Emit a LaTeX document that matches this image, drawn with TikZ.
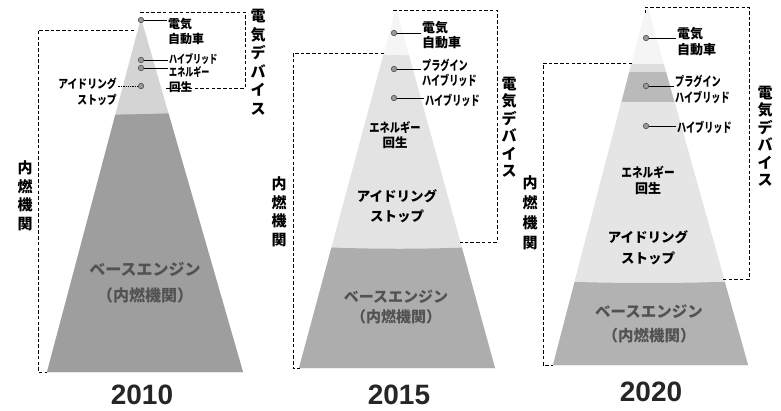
\documentclass[tikz,border=0pt]{standalone}
\usepackage{fontspec}
\usepackage{graphicx}
\setmainfont{Liberation Sans}
\newfontfamily\jp{Noto Sans CJK JP}
\newfontfamily\jpc{Noto Sans CJK JP}[FakeStretch=0.7]
\newfontfamily\jpm{Noto Sans CJK JP}[FakeStretch=0.82]
\tikzset{
  dbox/.style={draw=black, line width=0.9pt, dash pattern=on 3.5pt off 2.2pt},
  dotm/.style={circle, inner sep=0pt, minimum size=5.5pt, fill=black!40, draw=black!75, line width=0.5pt},
  lead/.style={line width=0.8pt},
  lab/.style={font=\jpc\bfseries\fontsize{12}{15}\selectfont, align=left, inner sep=1pt},
  vlab/.style={font=\jp\bfseries\fontsize{15}{18.5}\selectfont, align=center, inner sep=0pt},
  intext/.style={font=\jp\bfseries\fontsize{13}{19}\selectfont, align=center, inner sep=0pt},
  basetext/.style={font=\jp\bfseries\fontsize{15.5}{24}\selectfont, align=center, inner sep=0pt, text=black!68},
  year/.style={font=\bfseries\fontsize{28}{30}\selectfont, inner sep=0pt, text=black!85}
}
\begin{document}
\begin{tikzpicture}[x=1pt,y=-1pt]
\useasboundingbox (0,0) rectangle (781,410);
\fill[white] (0,0) rectangle (781,410);

% ---------------- Panel 2010 ----------------
\begin{scope}
  \clip (141,18) -- (243,372) -- (47,372) -- cycle;
  \fill[black!17] (30,0) rectangle (260,380);
  \fill[black!38] (30,114) .. controls (100,116) and (180,114) .. (260,109) -- (260,380) -- (30,380) -- cycle;
\end{scope}
\draw[dbox] (134,30) -- (38,30) -- (38,372) -- (47,372);
\draw[dbox] (140,12) -- (245,12) -- (245,88) -- (166,88);

\node[vlab] (p1e) at (258,62) {電\\気\\デ\\バ\\イ\\ス};
\node[vlab] (p1i) at (25,196) {内\\燃\\機\\関};

\node[dotm] (d1ev) at (141,20) {};
\node[lab, anchor=west] (l1ev) at (167,31.5) {{\jp 電気}\\{\jp 自動車}};
\draw[lead] (d1ev) -- (d1ev -| l1ev.west);

\node[dotm] (d1hy) at (141,60) {};
\node[lab, anchor=west, font=\jpc\bfseries\fontsize{11.5}{15}\selectfont] (l1hy) at (168,59.5) {ハイブリッド};
\draw[lead] (d1hy) -- (d1hy -| l1hy.west);

\node[dotm] (d1en) at (141,68) {};
\node[lab, anchor=west, font=\jpc\bfseries\fontsize{11.5}{15}\selectfont] (l1en) at (168,79) {エネルギー\\{\jp 回生}};
\draw[lead] (d1en) -- (d1en -| l1en.west);

\node[dotm] (d1id) at (141,86) {};
\node[lab, anchor=east, align=right, font=\jpm\bfseries\fontsize{12}{16}\selectfont] (l1id) at (118,91.5) {アイドリング\\ストップ};
\draw[line width=0.6pt, dash pattern=on 1pt off 0.8pt] (d1id) -- (d1id -| l1id.east);

\node[basetext, font=\jp\bfseries\fontsize{16}{26}\selectfont] (b1) at (145,283) {ベースエンジン\\（内燃機関）};
\node[year] (y1) at (142,395) {2010};

% ---------------- Panel 2015 ----------------
\begin{scope}
  \clip (396,8) -- (495,368) -- (299,368) -- cycle;
  \fill[black!4] (280,0) rectangle (510,380);
  \fill[black!11] (280,55) rectangle (510,380);
  \fill[black!32] (280,245) .. controls (360,250) and (440,250) .. (510,245) -- (510,380) -- (280,380) -- cycle;
\end{scope}
\draw[dbox] (384,53) -- (293,53) -- (293,368) -- (300,368);
\draw[dbox] (393,10) -- (497,10) -- (497,242) -- (460,242);

\node[vlab, font=\jp\bfseries\fontsize{15}{17.5}\selectfont] (p2e) at (509,127) {電\\気\\デ\\バ\\イ\\ス};
\node[vlab] (p2i) at (279,212) {内\\燃\\機\\関};

\node[dotm] (d2ev) at (394,33) {};
\node[lab, anchor=west, font=\jp\bfseries\fontsize{13}{15}\selectfont] (l2ev) at (421,35.5) {電気\\自動車};
\draw[lead] (d2ev) -- (d2ev -| l2ev.west);

\node[dotm] (d2ph) at (394,69) {};
\node[lab, anchor=west, font=\jpc\bfseries\fontsize{13}{15}\selectfont] (l2ph) at (421,72.5) {プラグイン\\ハイブリッド};
\draw[lead] (d2ph) -- (d2ph -| l2ph.west);

\node[dotm] (d2hy) at (394,98) {};
\node[lab, anchor=west, font=\jpc\bfseries\fontsize{13}{15}\selectfont] (l2hy) at (424,100) {ハイブリッド};
\draw[lead] (d2hy) -- (d2hy -| l2hy.west);

\node[intext, font=\jp\bfseries\fontsize{12.5}{15}\selectfont] (t2en) at (395,135.5) {{\jpm エネルギー}\\回生};
\node[intext, font=\jp\bfseries\fontsize{13.5}{20}\selectfont] (t2id) at (397,206.5) {アイドリング\\ストップ};
\node[basetext, font=\jp\bfseries\fontsize{15}{20}\selectfont] (b2) at (396,307) {ベースエンジン\\（内燃機関）};
\node[year] (y2) at (399,395) {2015};

% ---------------- Panel 2020 ----------------
\begin{scope}
  \clip (647,4) -- (748,365) -- (553,365) -- cycle;
  \fill[black!4] (530,0) rectangle (760,380);
  \fill[black!13] (530,64) rectangle (760,380);
  \fill[black!27] (530,72) rectangle (760,102);
  \fill[black!10] (530,102) rectangle (760,380);
  \fill[black!30] (530,280) .. controls (600,284) and (700,284) .. (760,280) -- (760,380) -- (530,380) -- cycle;
\end{scope}
\draw[dbox] (632,63) -- (543,63) -- (543,365) -- (553,365);
\draw[dbox] (645,13) -- (645,7) -- (749,7) -- (749,279) -- (722,279);

\node[vlab, font=\jp\bfseries\fontsize{15}{17.5}\selectfont] (p3e) at (765,136) {電\\気\\デ\\バ\\イ\\ス};
\node[vlab, font=\jp\bfseries\fontsize{15}{20}\selectfont] (p3i) at (530,213) {内\\燃\\機\\関};

\node[dotm] (d3ev) at (646,38) {};
\node[lab, anchor=west, font=\jp\bfseries\fontsize{13}{16}\selectfont] (l3ev) at (676,41.5) {電気\\自動車};
\draw[lead] (d3ev) -- (d3ev -| l3ev.west);

\node[dotm] (d3ph) at (646,86) {};
\node[lab, anchor=west, font=\jpc\bfseries\fontsize{13}{16}\selectfont] (l3ph) at (674,89) {プラグイン\\ハイブリッド};
\draw[lead] (d3ph) -- (d3ph -| l3ph.west);

\node[dotm] (d3hy) at (646,126) {};
\node[lab, anchor=west, font=\jpc\bfseries\fontsize{13}{16}\selectfont] (l3hy) at (676,127) {ハイブリッド};
\draw[lead] (d3hy) -- (d3hy -| l3hy.west);

\node[intext, font=\jp\bfseries\fontsize{13}{15.5}\selectfont] (t3en) at (648,180.5) {{\jpm エネルギー}\\回生};
\node[intext, font=\jp\bfseries\fontsize{13.5}{21}\selectfont] (t3id) at (648,247.5) {アイドリング\\ストップ};
\node[basetext, font=\jp\bfseries\fontsize{15.5}{24}\selectfont] (b3) at (649,324) {ベースエンジン\\（内燃機関）};
\node[year] (y3) at (651,392) {2020};
\end{tikzpicture}
\end{document}
